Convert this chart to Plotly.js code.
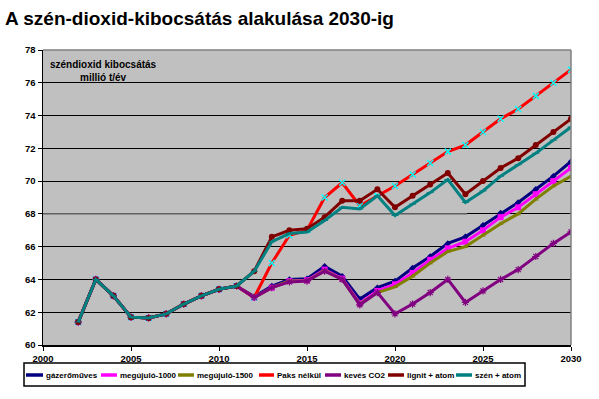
<!DOCTYPE html>
<html><head><meta charset="utf-8">
<script src="https://cdn.plot.ly/plotly-3.0.1.min.js"></script>
<style>body{margin:0;background:#fff}#c{width:599px;height:399px}</style>
</head><body><div id="c"></div>
<script>
const years = [2002,2003,2004,2005,2006,2007,2008,2009,2010,2011,2012,2013,2014,2015,2016,2017,2018,2019,2020,2021,2022,2023,2024,2025,2026,2027,2028,2029,2030];
const common = [61.4,64.0,63.0,61.7,61.65,61.9,62.5,63.0,63.4,63.6];
const gazeromuves = common.concat([62.95,63.6,64.0,64.05,64.8,64.2,62.8,63.5,63.9,64.7,65.4,66.2,66.6,67.3,68.05,68.7,69.5,70.3,71.2]);
const megujulo1000 = common.concat([62.9,63.5,63.9,63.95,64.6,64.05,62.55,63.3,63.7,64.4,65.2,65.9,66.3,67.0,67.8,68.4,69.2,70.0,70.8]);
const megujulo1500 = common.concat([62.9,63.5,63.9,63.9,64.55,64.0,62.5,63.2,63.55,64.2,65.0,65.7,66.0,66.7,67.4,68.0,68.9,69.7,70.3]);
const paksNelkul = common.concat([62.9,65.0,66.7,67.0,69.0,69.9,68.5,69.1,69.7,70.4,71.1,71.8,72.2,73.0,73.8,74.4,75.2,76.0,76.8]);
const kevesCO2 = common.concat([62.9,63.5,63.85,63.9,64.5,64.0,62.45,63.2,61.9,62.5,63.2,64.0,62.6,63.3,64.0,64.6,65.4,66.2,66.9]);
const lignitAtom = common.concat([64.5,66.6,67.0,67.1,67.8,68.8,68.8,69.5,68.4,69.1,69.8,70.5,69.2,70.0,70.8,71.4,72.2,73.0,73.8]);
const szenAtom = common.concat([64.5,66.3,66.8,66.9,67.6,68.4,68.3,69.1,67.9,68.6,69.3,70.1,68.7,69.4,70.3,71.0,71.7,72.5,73.3]);
const seriesNames = ['gázerőműves','megújuló-1000','megújuló-1500','Paks nélkül','kevés CO2','lignit + atom','szén + atom'];
const xTicks = [2000,2005,2010,2015,2020,2025,2030];
const yTicks = [60,62,64,66,68,70,72,74,76,78];

const colors = ['#000080','#FF00FF','#808000','#FF0000','#800080','#800000','#008080'];
const markers = [
  {symbol:'diamond', size:5, color:'#000080'},
  {symbol:'square', size:6, color:'#FF00FF'},
  {symbol:'triangle-up', size:5, color:'#808000'},
  {symbol:'x-thin-open', size:6, color:'#00FFFF', line:{width:1.5,color:'#00FFFF'}},
  {symbol:'asterisk-open', size:6, color:'#800080', line:{width:1.2,color:'#800080'}},
  {symbol:'circle', size:6, color:'#800000'},
  {symbol:'line-ew-open', size:5, color:'#008080', line:{width:1,color:'#008080'}}
];
const allY = [gazeromuves, megujulo1000, megujulo1500, paksNelkul, kevesCO2, lignitAtom, szenAtom];
const traces = allY.map((y,i)=>({
  type:'scatter', mode:'lines+markers', x:years, y:y, name:seriesNames[i],
  line:{color:colors[i], width:3}, marker:markers[i]
}));

// plot area in pixels: x 43..571, y 50..345
const L=43, R=571, T=50, B=345;
const px = v => (v-L)/(R-L);
const py = v => (B-v)/(B-T);

const shapes = [
  {type:'line', xref:'paper', yref:'paper', x0:0, x1:1, y0:1, y1:1, line:{color:'#808080', width:1.5}},
  {type:'line', xref:'paper', yref:'paper', x0:1, x1:1, y0:0, y1:1, line:{color:'#808080', width:1.5}},
  {type:'line', xref:'x', yref:'y', x0:2000, x1:2024.1, y0:68, y1:68, line:{color:'#808080', width:1.5}, layer:'between'},
  {type:'rect', xref:'paper', yref:'paper', x0:px(24), x1:px(525), y0:py(363), y1:py(386), line:{color:'#000', width:1.5}, fillcolor:'#fff'}
];
const annotations = [
  {text:'<b>széndioxid kibocsátás</b><br><b>millió t/év</b>', xref:'paper', yref:'paper', x:px(48), y:py(57), xanchor:'left', yanchor:'top', showarrow:false, align:'center', font:{size:10}}
];
const legSample = [[26,43],[101,117],[178,194],[259,274],[325,341],[388,404],[456,472]];
const legY = 375;
seriesNames.forEach((n,i)=>{
  const [a,b] = legSample[i];
  shapes.push({type:'line', xref:'paper', yref:'paper', x0:px(a), x1:px(b), y0:py(legY), y1:py(legY), line:{color:colors[i], width:3.5}});
  annotations.push({text:'<b>'+n+'</b>', xref:'paper', yref:'paper', x:px(b+1), y:py(legY), xanchor:'left', yanchor:'middle', showarrow:false, font:{size:8}});
});

const layout = {
  width:599, height:399,
  paper_bgcolor:'#fff', plot_bgcolor:'#C0C0C0',
  margin:{l:L, r:599-R, t:T, b:399-B},
  font:{family:'Arial, Liberation Sans, sans-serif', color:'#000'},
  title:{text:'<b>A szén-dioxid-kibocsátás alakulása 2030-ig</b>', font:{size:19, family:'Arial, Liberation Sans, sans-serif', color:'#000'}, x:5/599, xanchor:'left', xref:'container', y:1-18/399, yanchor:'middle', yref:'container'},
  xaxis:{range:[2000,2030], tickvals:xTicks, ticktext:xTicks.map(v=>'<b>'+v+'</b>'), showgrid:false, zeroline:false,
    showline:true, linecolor:'#000', linewidth:1.5, ticks:'outside', ticklen:4, tickcolor:'#000', tickfont:{size:9.5}},
  yaxis:{range:[60,78], tickvals:yTicks, ticktext:yTicks.map(v=>'<b>'+v+'</b>'), showgrid:true, gridcolor:'#000', gridwidth:1, zeroline:false,
    showline:true, linecolor:'#000', linewidth:1.5, ticks:'outside', ticklen:4, tickcolor:'#000', tickfont:{size:9.5}},
  showlegend:false,
  shapes:shapes,
  annotations:annotations
};
Plotly.newPlot('c', traces, layout, {displayModeBar:false, staticPlot:true});
</script></body></html>
